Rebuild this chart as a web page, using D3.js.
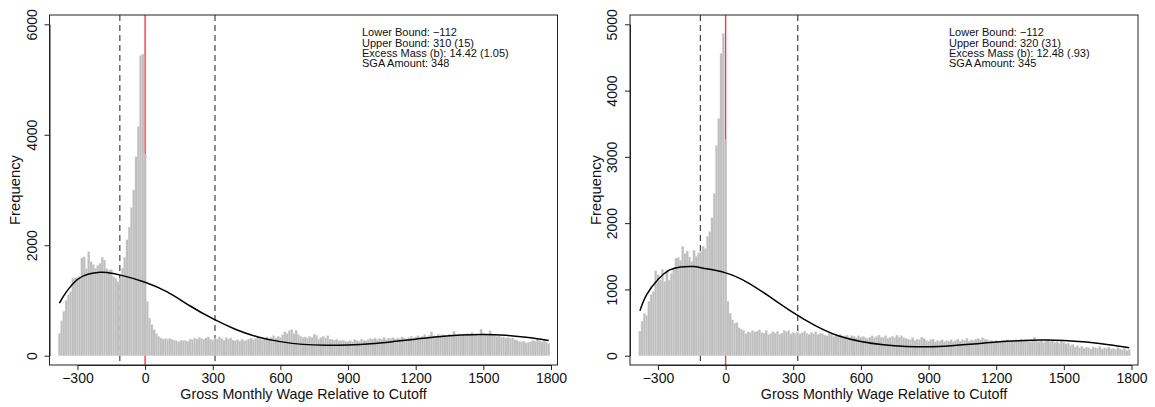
<!DOCTYPE html>
<html>
<head>
<meta charset="utf-8">
<script src="https://cdn.jsdelivr.net/npm/d3@7"></script>
<style>
  body { margin: 0; background: #fff; }
  text { font-family: "Liberation Sans", Arial, sans-serif; }
</style>
</head>
<body>
<div id="chart"></div>
<script>
// histogram bins: centres from -380 to 1790, width 10
const binStart = -380;
const binWidth = 10;

const leftCounts = [
  400, 630, 800, 1000, 1100, 1160, 1400, 1410, 1420, 1440,
  1770, 1790, 1580, 1880, 1700, 1650, 1580, 1630, 1670, 1780,
  1730, 1580, 1550, 1560, 1430, 1400,
  1340, 1400, 1580, 1780, 2100, 2330, 2680, 3000, 3600, 4150, 5430, 5460, 3650,
  980, 680, 560, 470, 400, 350, 320, 300, 310, 300,
  310, 290, 280, 270, 250, 280, 270, 275, 260, 300,
  290, 320, 300, 330, 310, 290, 320, 340, 300, 280,
  320, 300, 340, 310, 280, 330, 300, 320, 280, 270,
  290, 260, 300, 270, 280, 300, 320, 290, 310, 330,
  300, 290, 320, 340, 310, 330, 360, 320, 350, 330,
  380, 430, 400, 450, 470, 400, 460, 380, 350, 330,
  340, 320, 350, 330, 390, 370, 300, 330, 350, 320,
  360, 300, 290, 280, 300, 270, 270, 280, 260,
  260, 270, 250, 290, 270, 260, 300, 280, 270, 290,
  310, 300, 320, 290, 310, 300, 330, 290, 320, 310,
  330, 300, 320, 310, 340, 320, 300, 330, 350, 320,
  340, 360, 330, 350, 380, 340, 370, 430, 360, 350,
  390, 360, 380, 370, 350, 390, 360, 440, 370, 380,
  360, 390, 370, 400, 380, 420, 370, 390, 360, 480,
  400, 380, 370, 450, 390, 370, 350, 360, 330, 340,
  320, 330, 310, 320, 290, 280, 260, 250, 260, 230,
  240, 250, 280, 260, 300, 270, 250, 290, 240, 220
];

const rightCounts = [
  370, 520, 640, 610, 820, 920, 970, 1280, 1220, 1140,
  1300, 1120, 1290, 1140, 1240, 1320, 1470, 1480, 1440, 1650,
  1540, 1580, 1490, 1420, 1590, 1500, 1550, 1570, 1650, 1620,
  1800, 1870, 2080, 2450, 3170, 3580, 4560, 4860, 3260,
  820, 640, 540, 490, 500, 420, 400, 380, 330, 360,
  350, 380, 360, 370, 390, 350, 340, 380, 320, 330,
  360, 340, 370, 320, 340, 380, 360, 380, 330, 350,
  340, 360, 330, 350, 370, 340, 320, 350, 330, 360,
  320, 340, 330, 310, 300, 340, 330, 290, 310, 300,
  320, 280, 300, 310, 280, 300, 290, 270, 300, 280,
  290, 270, 260, 280, 300, 270, 290, 310, 280, 270,
  300, 260, 280, 290, 270, 310, 280, 300, 270, 260,
  250, 240, 270, 230, 250, 240, 280, 260, 230, 220,
  240, 250, 210, 230, 220, 240, 210, 230, 220, 240,
  210, 230, 250, 220, 240, 230, 260, 220, 240, 230,
  250, 260, 240, 270, 250, 240, 220, 230, 210, 230,
  220, 210, 230, 220, 240, 210, 230, 220, 240, 230,
  250, 220, 240, 230, 210, 230, 280, 220, 210, 230,
  200, 220, 250, 210, 230, 200, 210, 190, 220, 200,
  180, 190, 150, 170, 130, 150, 120, 140, 110, 130,
  120, 100, 130, 120, 110, 140, 100, 120, 110, 130,
  100, 110, 90, 120, 100, 90, 110, 80, 90
];

// counterfactual fitted curve
const leftCurveX = [-380, -350, -300, -250, -200, -170, -100, 0, 100, 200, 300, 400, 500, 600, 700, 800, 900, 1000, 1100, 1200, 1300, 1400, 1500, 1600, 1700, 1790];
const leftCurveY = [950, 1150, 1380, 1480, 1510, 1505, 1450, 1330, 1150, 900, 670, 480, 340, 255, 205, 190, 195, 215, 255, 300, 345, 375, 385, 370, 330, 275];
const rightCurveX = [-380, -350, -300, -250, -200, -140, -100, 0, 100, 200, 300, 400, 500, 600, 700, 800, 900, 1000, 1100, 1200, 1300, 1400, 1500, 1600, 1700, 1790];
const rightCurveY = [680, 920, 1150, 1290, 1340, 1345, 1320, 1250, 1100, 880, 650, 450, 300, 215, 165, 140, 135, 150, 175, 205, 225, 235, 230, 205, 165, 120];

const xTicks = [-300, 0, 300, 600, 900, 1200, 1500, 1800];
const leftYTicks = [0, 2000, 4000, 6000];
const rightYTicks = [0, 1000, 2000, 3000, 4000, 5000];

const leftNotes = ["Lower Bound: \u2212112", "Upper Bound: 310 (15)", "Excess Mass (b): 14.42 (1.05)", "SGA Amount: 348"];
const rightNotes = ["Lower Bound: \u2212112", "Upper Bound: 320 (31)", "Excess Mass (b): 12.48 (.93)", "SGA Amount: 345"];

const lowerBound = -112;
const cutoff = 0;

const width = 1155;
const height = 407;

const svg = d3.select("#chart").append("svg")
  .attr("width", width)
  .attr("height", height)
  .style("background", "#fff");

const panels = [
  { dx: 0, counts: leftCounts, cx: leftCurveX, cy: leftCurveY, yMax: 6000, yTicks: leftYTicks, notes: leftNotes, notesX: 362, upper: 310 },
  { dx: 580.5, counts: rightCounts, cx: rightCurveX, cy: rightCurveY, yMax: 5000, yTicks: rightYTicks, notes: rightNotes, notesX: 949, upper: 320 }
];

const fmt = d3.format("d");

panels.forEach(p => {
  const g = svg.append("g").attr("transform", `translate(${p.dx},0)`);
  const boxL = 49.5, boxR = 557.5, boxT = 15, boxB = 365;

  const x = d3.scaleLinear().domain([-300, 1800]).range([77.45, 551]);
  const y = d3.scaleLinear().domain([0, p.yMax]).range([355.7, 24.3]);

  // reference lines, drawn first so the bars sit over them
  [lowerBound, p.upper].forEach(v => {
    g.append("line")
      .attr("x1", x(v)).attr("x2", x(v))
      .attr("y1", boxT).attr("y2", boxB)
      .attr("stroke", "#333")
      .attr("stroke-width", 1.1)
      .attr("stroke-dasharray", "6,4");
  });
  g.append("line")
    .attr("x1", x(cutoff)).attr("x2", x(cutoff))
    .attr("y1", boxT).attr("y2", boxB)
    .attr("stroke", "#ff3838")
    .attr("stroke-width", 1.4);

  // bars
  g.append("g")
    .selectAll("rect")
    .data(p.counts)
    .join("rect")
    .attr("x", (d, i) => x(binStart + i * binWidth - binWidth / 2))
    .attr("width", x(binWidth) - x(0))
    .attr("y", d => y(d))
    .attr("height", d => y(0) - y(d))
    .attr("fill", "#bebebe")
    .attr("stroke", "#d6d6d6")
    .attr("stroke-width", 0.35);

  // fitted curve
  const pts = p.cx.map((v, i) => [v, p.cy[i]]);
  g.append("path")
    .datum(pts)
    .attr("fill", "none")
    .attr("stroke", "#000")
    .attr("stroke-width", 1.5)
    .attr("d", d3.line().x(d => x(d[0])).y(d => y(d[1])).curve(d3.curveNatural));

  // box
  g.append("rect")
    .attr("x", boxL).attr("y", boxT)
    .attr("width", boxR - boxL).attr("height", boxB - boxT)
    .attr("fill", "none")
    .attr("stroke", "#222")
    .attr("stroke-width", 1);

  // axes
  const xAxis = g.append("g")
    .attr("transform", `translate(0,${boxB})`)
    .call(d3.axisBottom(x).tickValues(xTicks).tickFormat(fmt).tickSize(5).tickSizeOuter(0));
  xAxis.selectAll("text")
    .attr("y", 8)
    .attr("font-size", 14)
    .attr("fill", "#111");

  const yAxis = g.append("g")
    .attr("transform", `translate(${boxL},0)`)
    .call(d3.axisLeft(y).tickValues(p.yTicks).tickFormat(fmt).tickSize(5).tickSizeOuter(0));
  yAxis.selectAll("text")
    .attr("transform", "rotate(-90)")
    .attr("x", 0)
    .attr("y", -13)
    .attr("dy", 0)
    .attr("text-anchor", "middle")
    .attr("font-size", 14)
    .attr("fill", "#111");

  [xAxis, yAxis].forEach(a => {
    a.selectAll("path, line").attr("stroke", "#222");
    a.select(".domain").attr("stroke-width", 1);
    a.attr("font-family", null);
  });

  // titles
  g.append("text")
    .attr("x", (boxL + boxR) / 2)
    .attr("y", 398.5)
    .attr("text-anchor", "middle")
    .attr("font-size", 14.3)
    .attr("fill", "#111")
    .text("Gross Monthly Wage Relative to Cutoff");

  g.append("text")
    .attr("transform", `translate(20,${(boxT + boxB) / 2}) rotate(-90)`)
    .attr("text-anchor", "middle")
    .attr("font-size", 14.8)
    .attr("fill", "#111")
    .text("Frequency");

  // notes
  g.append("g")
    .selectAll("text")
    .data(p.notes)
    .join("text")
    .attr("x", p.notesX - p.dx)
    .attr("y", (d, i) => 36.2 + i * 10.3)
    .attr("font-size", 11)
    .attr("fill", "#111")
    .text(d => d);
});
</script>
</body>
</html>
